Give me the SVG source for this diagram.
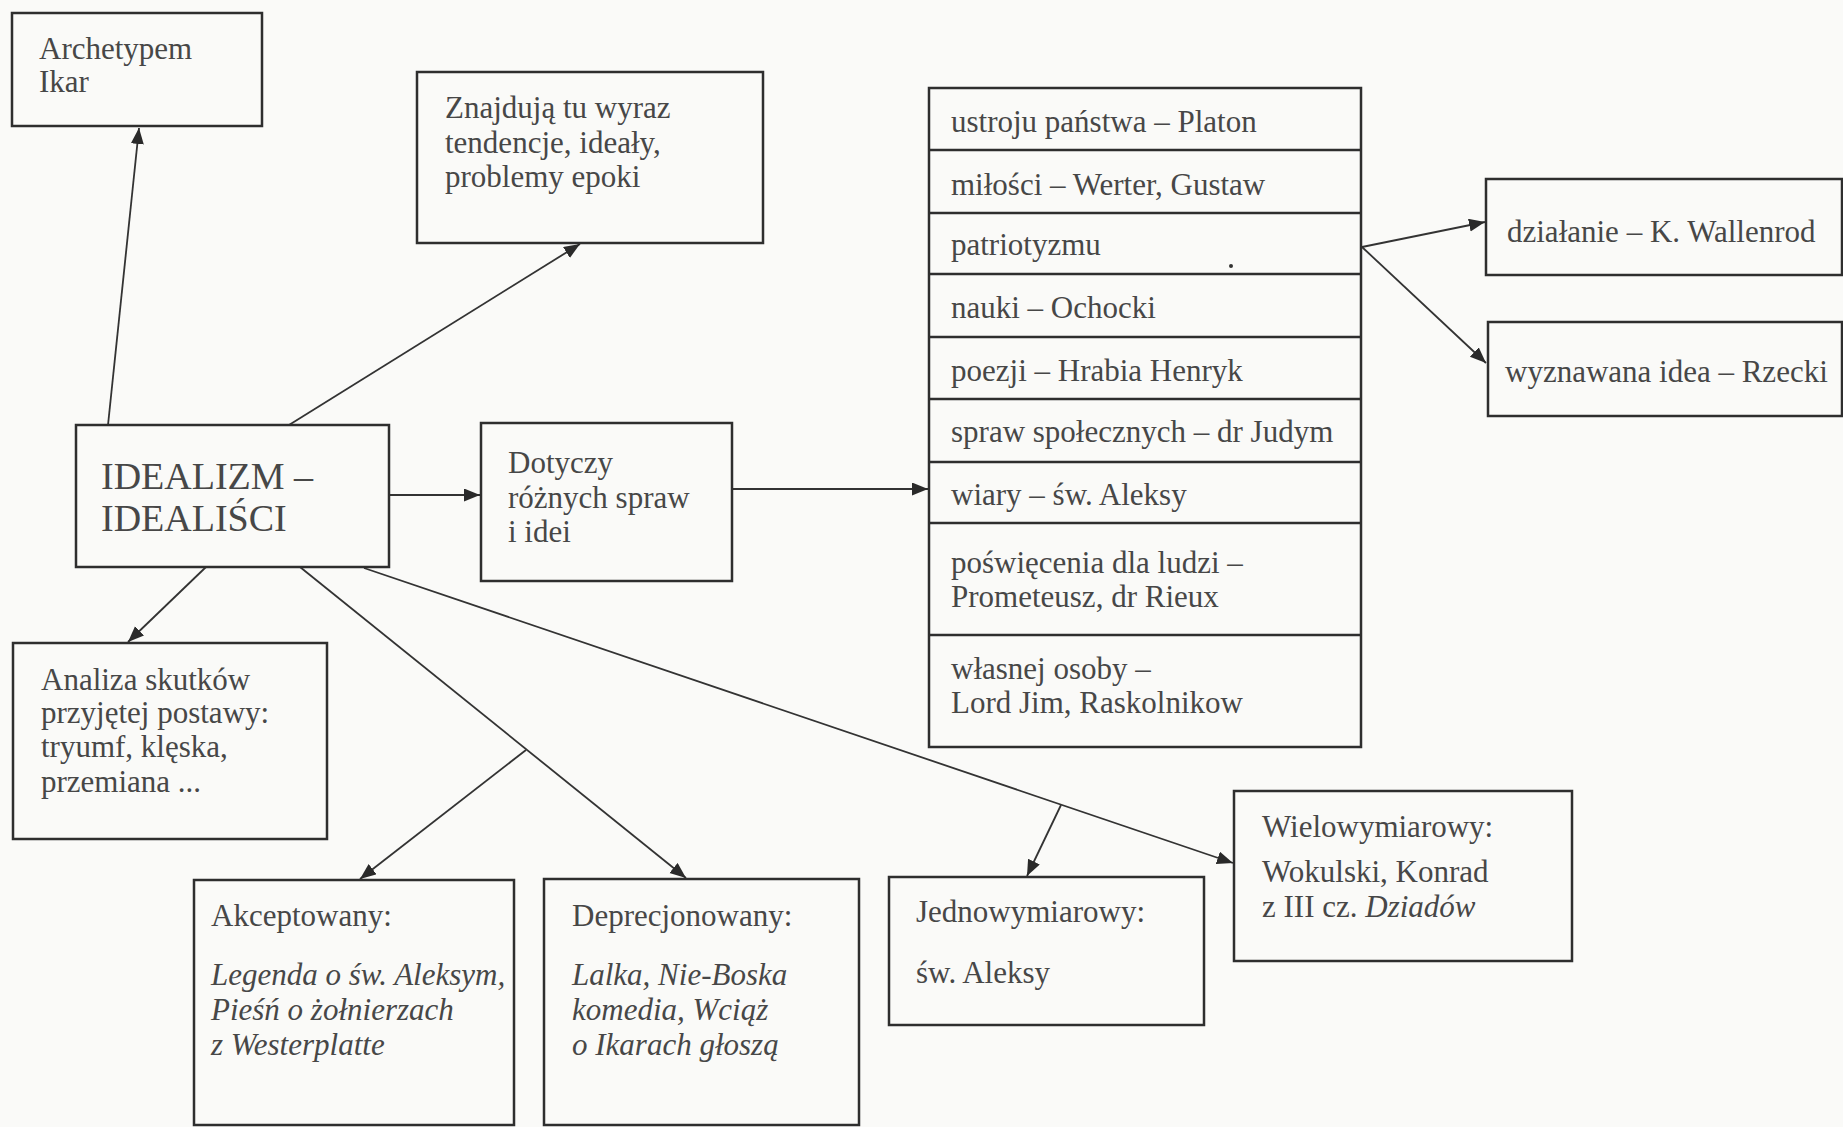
<svg xmlns="http://www.w3.org/2000/svg" width="1843" height="1127" viewBox="0 0 1843 1127">
<defs>
<style>
.box{fill:none;stroke:#2e2e2e;stroke-width:2.5}
.ln{fill:none;stroke:#333;stroke-width:1.8}
.arr{marker-end:url(#ah)}
text{font-family:"Liberation Serif","Times New Roman",serif;font-size:31px;fill:#474747}
.big{font-size:38px}
.it{font-style:italic}
</style>
<marker id="ah" markerUnits="userSpaceOnUse" markerWidth="18" markerHeight="14" refX="16" refY="6.5" orient="auto">
<path d="M0,0 L16,6.5 L0,13 Z" fill="#2a2a2a"/>
</marker>
</defs>
<rect width="1843" height="1127" fill="#fafaf8"/>

<g id="connectors">
<line class="ln arr" x1="108" y1="425" x2="139" y2="128"/>
<line class="ln arr" x1="289" y1="425" x2="580" y2="244"/>
<line class="ln arr" x1="389" y1="495" x2="480" y2="495"/>
<line class="ln arr" x1="733" y1="489" x2="928" y2="489"/>
<line class="ln arr" x1="1362" y1="247" x2="1485" y2="222"/>
<line class="ln arr" x1="1362" y1="247" x2="1486" y2="363"/>
<line class="ln arr" x1="206" y1="567" x2="128" y2="642"/>
<line class="ln arr" x1="300" y1="567" x2="686" y2="878"/>
<line class="ln arr" x1="526" y1="750" x2="360" y2="879"/>
<line class="ln arr" x1="364" y1="568" x2="1233" y2="863"/>
<line class="ln arr" x1="1061" y1="805" x2="1027" y2="876"/>
</g>

<g id="archetypem">
<rect class="box" x="12" y="13" width="250" height="113"/>
<text x="39" y="59">Archetypem</text>
<text x="39" y="92">Ikar</text>
</g>

<g id="znajduja">
<rect class="box" x="417" y="72" width="346" height="171"/>
<text x="445" y="118">Znajdują tu wyraz</text>
<text x="445" y="153">tendencje, ideały,</text>
<text x="445" y="187">problemy epoki</text>
</g>

<g id="idealizm">
<rect class="box" x="76" y="425" width="313" height="142"/>
<text class="big" x="101" y="489">IDEALIZM –</text>
<text class="big" x="101" y="531">IDEALIŚCI</text>
</g>

<g id="dotyczy">
<rect class="box" x="481" y="423" width="251" height="158"/>
<text x="508" y="473">Dotyczy</text>
<text x="508" y="508">różnych spraw</text>
<text x="508" y="542">i idei</text>
</g>

<g id="lista">
<rect class="box" x="929" y="88" width="432" height="659"/>
<line class="box" x1="929" y1="150" x2="1361" y2="150"/>
<line class="box" x1="929" y1="213" x2="1361" y2="213"/>
<line class="box" x1="929" y1="274" x2="1361" y2="274"/>
<line class="box" x1="929" y1="337" x2="1361" y2="337"/>
<line class="box" x1="929" y1="399" x2="1361" y2="399"/>
<line class="box" x1="929" y1="462" x2="1361" y2="462"/>
<line class="box" x1="929" y1="523" x2="1361" y2="523"/>
<line class="box" x1="929" y1="635" x2="1361" y2="635"/>
<text x="951" y="132">ustroju państwa – Platon</text>
<text x="951" y="195">miłości – Werter, Gustaw</text>
<text x="951" y="255">patriotyzmu</text>
<circle cx="1231" cy="266" r="2" fill="#333"/>
<text x="951" y="318">nauki – Ochocki</text>
<text x="951" y="381">poezji – Hrabia Henryk</text>
<text x="951" y="442">spraw społecznych – dr Judym</text>
<text x="951" y="505">wiary – św. Aleksy</text>
<text x="951" y="573">poświęcenia dla ludzi –</text>
<text x="951" y="607">Prometeusz, dr Rieux</text>
<text x="951" y="679">własnej osoby –</text>
<text x="951" y="713">Lord Jim, Raskolnikow</text>
</g>

<g id="dzialanie">
<rect class="box" x="1486" y="179" width="356" height="96"/>
<text x="1507" y="242">działanie – K. Wallenrod</text>
</g>

<g id="wyznawana">
<rect class="box" x="1488" y="322" width="354" height="94"/>
<text x="1505" y="382">wyznawana idea – Rzecki</text>
</g>

<g id="analiza">
<rect class="box" x="13" y="643" width="314" height="196"/>
<text x="41" y="690">Analiza skutków</text>
<text x="41" y="723">przyjętej postawy:</text>
<text x="41" y="757">tryumf, klęska,</text>
<text x="41" y="792">przemiana ...</text>
</g>

<g id="akceptowany">
<rect class="box" x="194" y="880" width="320" height="245"/>
<text x="211" y="926">Akceptowany:</text>
<text class="it" x="211" y="985">Legenda o św. Aleksym,</text>
<text class="it" x="211" y="1020">Pieśń o żołnierzach</text>
<text class="it" x="211" y="1055">z Westerplatte</text>
</g>

<g id="deprecjonowany">
<rect class="box" x="544" y="879" width="315" height="246"/>
<text x="572" y="926">Deprecjonowany:</text>
<text class="it" x="572" y="985">Lalka, Nie-Boska</text>
<text class="it" x="572" y="1020">komedia, Wciąż</text>
<text class="it" x="572" y="1055">o Ikarach głoszą</text>
</g>

<g id="jednowymiarowy">
<rect class="box" x="889" y="877" width="315" height="148"/>
<text x="916" y="922">Jednowymiarowy:</text>
<text x="916" y="983">św. Aleksy</text>
</g>

<g id="wielowymiarowy">
<rect class="box" x="1234" y="791" width="338" height="170"/>
<text x="1262" y="837">Wielowymiarowy:</text>
<text x="1262" y="882">Wokulski, Konrad</text>
<text x="1262" y="917">z III cz. <tspan class="it">Dziadów</tspan></text>
</g>
</svg>
